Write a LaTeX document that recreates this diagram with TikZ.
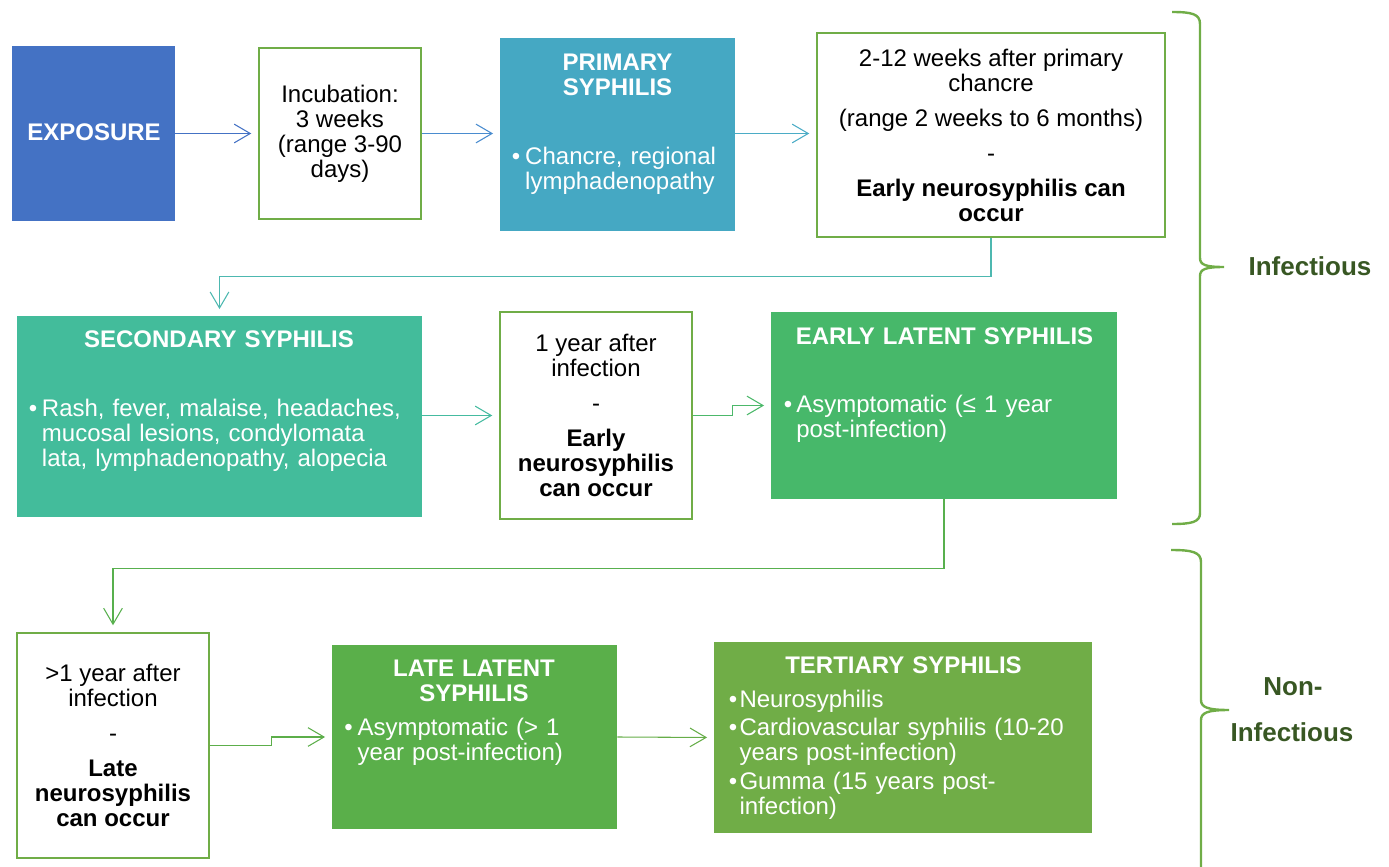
\documentclass[tikz,border=0pt]{standalone}
\usepackage{fontspec}
\setmainfont{Liberation Sans}
\usetikzlibrary{arrows.meta}
\definecolor{cExpo}{HTML}{4472C4}
\definecolor{cPrim}{HTML}{45A8C3}
\definecolor{cSec}{HTML}{43BC9B}
\definecolor{cEL}{HTML}{47B86A}
\definecolor{cLL}{HTML}{5AAF4A}
\definecolor{cTer}{HTML}{70AD47}
\definecolor{cBorder}{HTML}{70AD47}
\definecolor{cDark}{HTML}{385723}
\definecolor{cA}{HTML}{4472C4}
\definecolor{cB}{HTML}{4A8CCF}
\definecolor{cC}{HTML}{4BACC6}
\definecolor{cD}{HTML}{4DB8B0}
\definecolor{cE}{HTML}{45BBA0}
\definecolor{cF}{HTML}{4CB86A}
\definecolor{cG}{HTML}{58B04E}
\definecolor{cH}{HTML}{5CAE4A}
\definecolor{cI}{HTML}{66AD48}
\newcommand\bfirst[1][9.8pt]{\hangindent=#1\hangafter=1\noindent\makebox[#1][l]{•}}
\newcommand\bitem[1][9.8pt]{\par\hangindent=#1\hangafter=1\noindent\makebox[#1][l]{•}}
\begin{document}
\begin{tikzpicture}[x=0.75pt,y=-0.75pt,
  font=\fontsize{18}{18.75}\selectfont,
  sz/.style 2 args={minimum width=#1*0.75pt, minimum height=#2*0.75pt},
  wbox/.style={draw=cBorder, line width=1.6pt, fill=white, inner sep=0pt, align=center, text=black},
  fbox/.style={fill=#1, draw=none, inner sep=0pt},
  ttl/.style={text=white, font=\fontsize{18}{18.75}\selectfont\bfseries, anchor=base, align=center, inner sep=0pt},
  blt/.style={text=white, anchor=base west, align=left, inner sep=0pt},
  conn/.style={line width=0.8pt, -{Straight Barb[length=12pt,width=14pt]}, shorten >=5pt},
  brace/.style={draw=cBorder, line width=1.8pt},
  side/.style={text=cDark, font=\fontsize{19.5}{20}\selectfont\bfseries, anchor=base, inner sep=0pt}
]
\useasboundingbox (0,0) rectangle (1389,867);

% row 1
\node[fbox=cExpo, sz={163}{175}] (expo) at (93.5,133.5) {};
\node[ttl] (expoT) at (94,140.5) {EXPOSURE};

\node[wbox, sz={162}{171}] (incub) at (340,133.5) {Incubation:\\3 weeks\\(range 3-90\\days)};

\node[fbox=cPrim, sz={235}{193}] (prim) at (617.5,134.5) {};
\node[ttl, text width=150pt] (primT) at (617.5,70.7) {PRIMARY\\SYPHILIS};
\node[blt, text width=165pt] (primB) at (511.5,164) {\bfirst[10.1pt]Chancre, regional\newline lymphadenopathy\par};

\node[wbox, sz={348}{204}] (wk) at (991,135) {2-12 weeks after primary\\chancre\\[7.5pt](range 2 weeks to 6 months)\\[7.5pt]-\\[7.5pt]\textbf{Early neurosyphilis can}\\\textbf{occur}};

% row 2
\node[fbox=cSec, sz={405}{201}] (sec) at (219.5,416.5) {};
\node[ttl, text width=285pt] (secT) at (219,347.3) {SECONDARY SYPHILIS};
\node[blt, text width=290pt] (secB) at (28.5,416) {\bfirst[9.9pt]Rash, fever, malaise, headaches,\newline mucosal lesions, condylomata\newline lata, lymphadenopathy, alopecia\par};

\node[wbox, sz={192}{207}] (yr) at (596,415.5) {1 year after\\infection\\[7.5pt]-\\[7.5pt]\textbf{Early}\\\textbf{neurosyphilis}\\\textbf{can occur}};

\node[fbox=cEL, sz={346}{187}] (el) at (944,405.5) {};
\node[ttl, text width=255pt] (elT) at (944.5,344.5) {EARLY LATENT SYPHILIS};
\node[blt, text width=245pt] (elB) at (783.5,412) {\bfirst[9.4pt]Asymptomatic (≤ 1 year\newline post-infection)\par};

% row 3
\node[wbox, sz={192}{225}] (gt) at (113,745.5) {>1 year after\\infection\\[7.5pt]-\\[7.5pt]\textbf{Late}\\\textbf{neurosyphilis}\\\textbf{can occur}};

\node[fbox=cLL, sz={285}{184}] (ll) at (474.5,737) {};
\node[ttl, text width=200pt] (llT) at (474,676.7) {LATE LATENT\\SYPHILIS};
\node[blt, text width=200pt] (llB) at (344.2,735.7) {\bfirst[9.8pt]Asymptomatic (> 1\newline year post-infection)\par};

\node[fbox=cTer, sz={378}{191}] (ter) at (903,737.5) {};
\node[ttl, text width=270pt] (terT) at (903.5,673.7) {TERTIARY SYPHILIS};
\node[blt, text width=270pt] (terB) at (728.5,707) {\setlength{\parskip}{2.9pt}\bfirst[8.1pt]Neurosyphilis\bitem[8.1pt]Cardiovascular syphilis (10-20\newline years post-infection)\bitem[8.1pt]Gumma (15 years post-\newline infection)\par};

% connectors
\draw[conn, cA] (expo.east) -- (incub.west);
\draw[conn, cB] (incub.east) -- (prim.west |- incub.east);
\draw[conn, cC] (prim.east |- incub.east) -- (wk.west |- incub.east);
\draw[conn, cD] (wk.south) -- ++(0,38) -| (sec.north);
\draw[conn, cE] (sec.east |- yr.west) -- (yr.west);
\draw[conn, cF] (yr.east) -- ++(39,0) |- (el.west);
\draw[conn, cG] (el.south) -- ++(0,69) -| (gt.north);
\draw[conn, cH] (gt.east) -- ++(61,0) |- (ll.west);
\draw[conn, cI] (ll.east) -- (ter.west);

% braces
\draw[brace] (1172,12) .. controls (1192,12) and (1200,14) .. (1200,24) -- (1200,258)
  .. controls (1200,265) and (1206,267) .. (1224,267)
  .. controls (1206,267) and (1200,269) .. (1200,276) -- (1200,513)
  .. controls (1200,522) and (1192,524) .. (1172,524);
\draw[brace] (1171,550) .. controls (1192,550) and (1201,552) .. (1201,562) -- (1201,700)
  .. controls (1201,707) and (1207,710) .. (1229,710)
  .. controls (1207,710) and (1201,713) .. (1201,720) -- (1201,870);
\node[side] (inf) at (1310,275) {Infectious};
\node[side] (non1) at (1293,695.7) {Non-};
\node[side] (non2) at (1292,741.7) {Infectious};
\end{tikzpicture}
\end{document}
